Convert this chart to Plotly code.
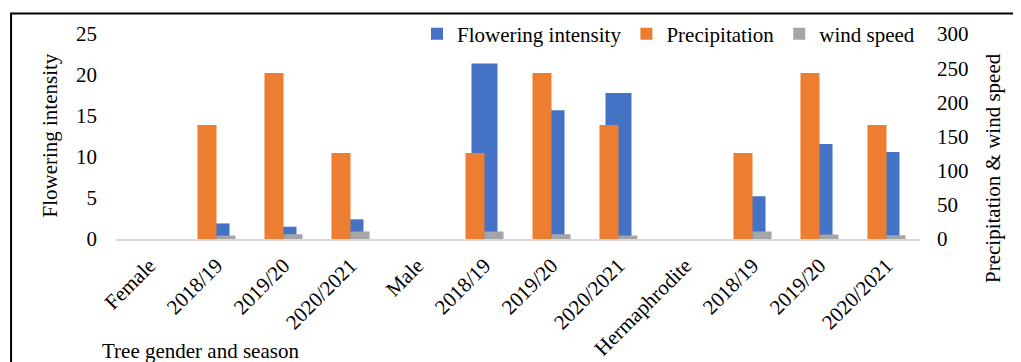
import plotly.graph_objects as go

categories = ["Female", "2018/19", "2019/20", "2020/2021",
              "Male", "2018/19", "2019/20", "2020/2021",
              "Hermaphrodite", "2018/19", "2019/20", "2020/2021"]
flowering = [None, 1.9, 1.5, 2.4, None, 21.4, 15.7, 17.8, None, 5.2, 11.6, 10.6]
precipitation = [None, 167, 243, 126, None, 126, 243, 167, None, 126, 243, 167]
wind_speed = [None, 5, 7, 11, None, 11, 7, 5, None, 11, 6.5, 5.5]

pos = list(range(len(categories)))
FONT = "Liberation Serif, Times New Roman, serif"

fig = go.Figure()
fig.add_trace(go.Bar(x=pos, y=flowering, name="Flowering intensity",
                     marker=dict(color="#4472C4", line=dict(width=0)),
                     offset=-0.194, width=0.388, yaxis="y"))
fig.add_trace(go.Bar(x=pos, y=precipitation, name="Precipitation",
                     marker=dict(color="#ED7D31", line=dict(width=0)),
                     offset=-0.284, width=0.284, yaxis="y2"))
fig.add_trace(go.Bar(x=pos, y=wind_speed, name="wind speed",
                     marker=dict(color="#A5A5A5", line=dict(width=0)),
                     offset=0.0, width=0.284, yaxis="y2"))

# page body has an 8px default margin; work in screen pixels and convert
OFF = 8
W, H = 1021, 362
plot_left, plot_right, plot_top, plot_bottom = 115.5, 920, 34, 239
L = plot_left - OFF
R = W - (plot_right - OFF)
T = plot_top - OFF
B = H - (plot_bottom - OFF)
pw = plot_right - plot_left
ph = plot_bottom - plot_top


def px(xs):
    return (xs - plot_left) / pw


def py(ys):
    return (plot_bottom - ys) / ph


fig.update_layout(
    width=W, height=H,
    margin=dict(l=L, r=R, t=T, b=B, autoexpand=False),
    paper_bgcolor="white", plot_bgcolor="white",
    barmode="overlay",
    font=dict(family=FONT, size=21, color="black"),
    showlegend=True,
    legend=dict(orientation="h", x=1, xanchor="right", y=1, yanchor="middle",
                bgcolor="rgba(0,0,0,0)", font=dict(family=FONT, size=21),
                traceorder="normal", itemsizing="constant"),
    xaxis=dict(tickmode="array", tickvals=pos, ticktext=categories,
               range=[-0.5, len(categories) - 0.5], tickangle=-45,
               showline=True, linecolor="#d9d9d9", linewidth=2,
               showgrid=False, zeroline=False, ticks="",
               ticklabelstandoff=4,
               tickfont=dict(family=FONT, size=21)),
    yaxis=dict(range=[0, 25], dtick=5, showgrid=False, zeroline=False,
               showline=False, ticks="", ticklabelstandoff=18,
               tickfont=dict(family=FONT, size=21)),
    yaxis2=dict(range=[0, 300], dtick=50, overlaying="y", side="right",
                showgrid=False, zeroline=False, showline=False, ticks="",
                ticklabelstandoff=16, tickfont=dict(family=FONT, size=21)),
)

fig.add_annotation(text="Flowering intensity", textangle=-90, showarrow=False,
                   xref="paper", yref="paper", x=px(49), y=py(136),
                   xanchor="center", yanchor="middle",
                   font=dict(family=FONT, size=21))
fig.add_annotation(text="Precipitation &amp; wind speed", textangle=-90, showarrow=False,
                   xref="paper", yref="paper", x=px(993), y=py(168),
                   xanchor="center", yanchor="middle",
                   font=dict(family=FONT, size=21))
fig.add_annotation(text="Tree gender and season", showarrow=False,
                   xref="paper", yref="paper", x=px(99), y=py(351),
                   xanchor="left", yanchor="middle",
                   font=dict(family=FONT, size=21))

fig.add_shape(type="rect", xref="paper", yref="paper",
              x0=px(10.5), x1=px(1040), y0=py(390), y1=py(13.5),
              line=dict(color="black", width=2), fillcolor="rgba(0,0,0,0)",
              layer="above")

fig.write_html("out.html")
